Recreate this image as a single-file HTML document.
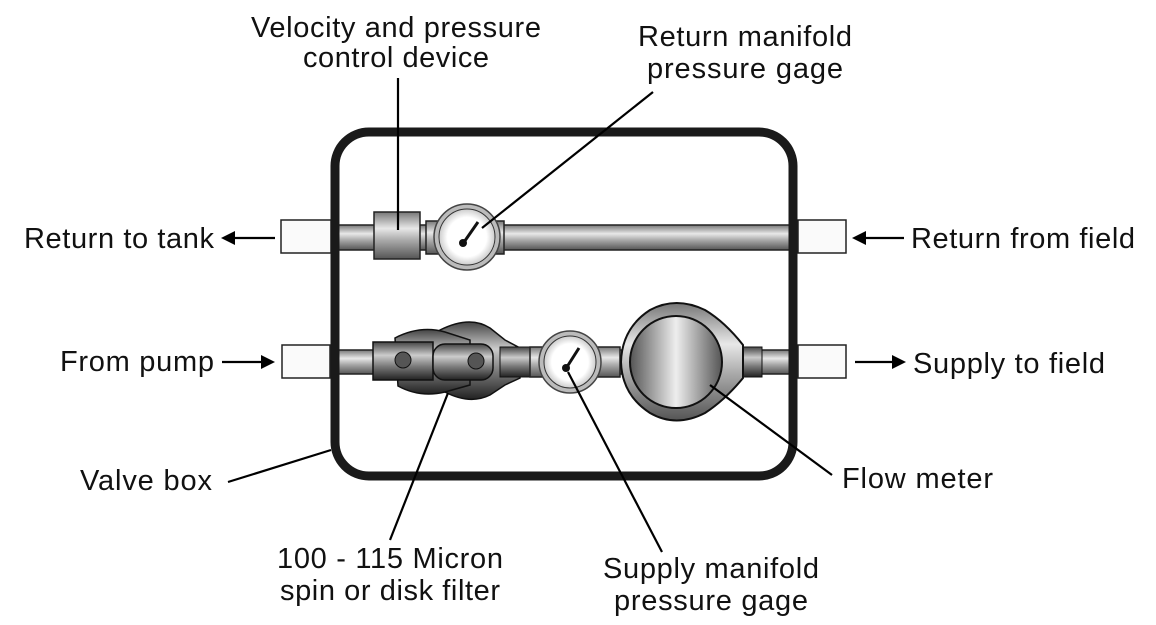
<!DOCTYPE html>
<html><head><meta charset="utf-8"><style>
body{margin:0;background:#fff;}
svg{display:block;}
text{font-family:"Liberation Sans",Arial,sans-serif;font-size:29px;fill:#111;}
</style></head><body>
<svg width="1156" height="625" viewBox="0 0 1156 625">
<defs>
<linearGradient id="pipe" x1="0" y1="0" x2="0" y2="1">
<stop offset="0" stop-color="#777"/><stop offset="0.35" stop-color="#e8e8e8"/><stop offset="0.6" stop-color="#aaa"/><stop offset="1" stop-color="#555"/></linearGradient>
<linearGradient id="dark" x1="0" y1="0" x2="0" y2="1">
<stop offset="0" stop-color="#444"/><stop offset="0.35" stop-color="#ccc"/><stop offset="0.65" stop-color="#777"/><stop offset="1" stop-color="#222"/></linearGradient>
<linearGradient id="meter" x1="0" y1="0" x2="1" y2="0">
<stop offset="0" stop-color="#555"/><stop offset="0.5" stop-color="#eee"/><stop offset="1" stop-color="#555"/></linearGradient>
<radialGradient id="face"><stop offset="0.7" stop-color="#fff"/><stop offset="1" stop-color="#ccc"/></radialGradient>
</defs>
<rect x="330" y="225" width="470" height="25" fill="url(#pipe)" stroke="#222" stroke-width="1.5"/>
<rect x="281" y="220" width="50" height="33" fill="#fafafa" stroke="#222" stroke-width="1.5"/>
<rect x="798" y="220" width="48" height="33" fill="#fafafa" stroke="#222" stroke-width="1.5"/>
<rect x="374" y="212" width="46" height="47" fill="url(#pipe)" stroke="#222" stroke-width="1.5"/>
<rect x="426" y="221" width="78" height="33" fill="url(#pipe)" stroke="#222" stroke-width="1.5"/>
<circle cx="467" cy="237" r="33" fill="#bbb" stroke="#444" stroke-width="1.5"/>
<circle cx="467" cy="237" r="28" fill="url(#face)" stroke="#333"/>
<line x1="462" y1="245" x2="478" y2="222" stroke="#111" stroke-width="3"/>
<circle cx="463" cy="243" r="4" fill="#111"/>
<rect x="330" y="350" width="470" height="24" fill="url(#pipe)" stroke="#222" stroke-width="1.5"/>
<rect x="282" y="345" width="48" height="33" fill="#fafafa" stroke="#222" stroke-width="1.5"/>
<rect x="798" y="345" width="48" height="33" fill="#fafafa" stroke="#222" stroke-width="1.5"/>
<path d="M440 330 Q470 315 490 328 L505 340 L520 348 L520 378 L505 385 L490 395 Q470 405 445 392 Z" fill="url(#dark)" stroke="#111" stroke-width="1.5"/>
<path d="M395 338 Q420 325 445 332 L470 340 L470 385 L445 392 Q420 398 398 386 Z" fill="url(#dark)" stroke="#111" stroke-width="1.5"/>
<rect x="373" y="342" width="60" height="38" fill="url(#dark)" stroke="#111" stroke-width="1.5"/>
<rect x="433" y="344" width="60" height="36" rx="12" fill="url(#dark)" stroke="#111" stroke-width="1.5"/>
<circle cx="403" cy="360" r="8" fill="#555" stroke="#111"/>
<circle cx="476" cy="361" r="8" fill="#555" stroke="#111"/>
<rect x="500" y="347" width="32" height="30" fill="url(#dark)" stroke="#111"/>
<rect x="530" y="347" width="90" height="30" fill="url(#pipe)" stroke="#222" stroke-width="1.5"/>
<circle cx="570" cy="362" r="31" fill="#bbb" stroke="#444" stroke-width="1.5"/>
<circle cx="570" cy="362" r="26" fill="url(#face)" stroke="#333"/>
<line x1="565" y1="370" x2="579" y2="348" stroke="#111" stroke-width="3"/>
<circle cx="566" cy="368" r="4" fill="#111"/>
<rect x="738" y="347" width="24" height="30" fill="url(#dark)" stroke="#111"/>
<path d="M743 345 L743 378 Q725 400 705 413 Q676 428 650 413 Q622 395 621 362 Q622 328 650 310 Q676 296 705 310 Q725 322 743 345 Z" fill="url(#pipe)" stroke="#111" stroke-width="2"/>
<circle cx="676" cy="362" r="46" fill="url(#meter)" stroke="#111" stroke-width="2"/>
<rect x="335" y="132" width="458" height="344" rx="34" fill="none" stroke="#1a1a1a" stroke-width="9"/>
<g stroke="#000" stroke-width="2.2" fill="none">
<line x1="398" y1="78" x2="398" y2="230"/>
<line x1="653" y1="92" x2="482" y2="228"/>
<line x1="448" y1="393" x2="390" y2="540"/>
<line x1="568" y1="372" x2="662" y2="552"/>
<line x1="710" y1="385" x2="832" y2="475"/>
<line x1="228" y1="482" x2="331" y2="450"/>
<line x1="232" y1="238" x2="275" y2="238"/>
<line x1="863" y1="238" x2="904" y2="238"/>
<line x1="222" y1="362" x2="264" y2="362"/>
<line x1="855" y1="362" x2="895" y2="362"/>
</g>
<g fill="#000">
<polygon points="221,238 235,231 235,245"/>
<polygon points="852,238 866,231 866,245"/>
<polygon points="275,362 261,355 261,369"/>
<polygon points="906,362 892,355 892,369"/>
</g>
<g text-anchor="middle">
<text x="396" y="37" textLength="290">Velocity and pressure</text>
<text x="396" y="67" textLength="186">control device</text>
<text x="745" y="46" textLength="214">Return manifold</text>
<text x="745" y="78" textLength="196">pressure gage</text>
<text x="390" y="568" textLength="226">100 - 115 Micron</text>
<text x="390" y="600" textLength="220">spin or disk filter</text>
<text x="711" y="578" textLength="216">Supply manifold</text>
<text x="711" y="610" textLength="194">pressure gage</text>
</g>
<text x="24" y="248" textLength="190">Return to tank</text>
<text x="911" y="248" textLength="224">Return from field</text>
<text x="60" y="371" textLength="154">From pump</text>
<text x="913" y="373" textLength="192">Supply to field</text>
<text x="80" y="490" textLength="132">Valve box</text>
<text x="842" y="488" textLength="151">Flow meter</text>
</svg>
</body></html>
